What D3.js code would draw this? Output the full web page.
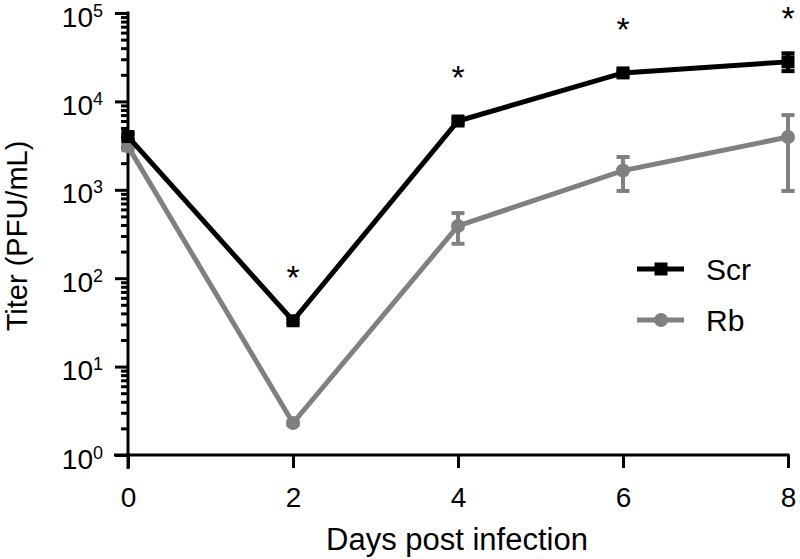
<!DOCTYPE html>
<html>
<head>
<meta charset="utf-8">
<script src="https://cdn.jsdelivr.net/npm/d3@7"></script>
<style>
  html, body { margin: 0; padding: 0; background: #fff; }
  text { font-family: "Liberation Sans", Arial, sans-serif; fill: #000; }
</style>
</head>
<body>
<svg id="chart" width="800" height="559"></svg>
<script>
// ---- data ----
const days = [0, 2, 4, 6, 8];
const scrMean = [4000, 33, 6000, 21000, 28000];
const scrLow  = [3700, 31, 5600, 19500, 22000];
const scrHigh = [4300, 35, 6400, 22500, 35000];
const rbMean  = [3100, 2.3, 390, 1650, 3950];
const rbLow   = [2800, 2.2, 245, 970, 970];
const rbHigh  = [3400, 2.4, 545, 2350, 7000];
const significant = [false, true, true, true, true];
const xTicks = [0, 2, 4, 6, 8];
const yMajor = [1, 10, 100, 1000, 10000, 100000];
const yExponents = ["0", "1", "2", "3", "4", "5"];
const seriesNames = ["Scr", "Rb"];
const seriesColors = ["#000000", "#808080"];
const xTitle = "Days post infection";
const yTitle = "Titer (PFU/mL)";

// ---- scales ----
const svg = d3.select("#chart");
const x = d3.scaleLinear().domain([0, 8]).range([128, 788]);
const y = d3.scaleLog().domain([1, 100000]).range([455, 13]);

// minor ticks
const yMinor = [];
for (let d = 1; d < 100000; d *= 10) for (let k = 2; k <= 9; k++) yMinor.push(d * k);

// ---- axes ----
const axisW = 3;
const gyMinor = svg.append("g").attr("transform", "translate(128,0)")
  .call(d3.axisLeft(y).tickValues(yMinor).tickSize(7).tickFormat(""));
gyMinor.select(".domain").remove();
gyMinor.selectAll("line").attr("stroke", "#000").attr("stroke-width", axisW);

const gy = svg.append("g").attr("transform", "translate(128,0)")
  .call(d3.axisLeft(y).tickValues(yMajor).tickSize(13).tickSizeOuter(0).tickFormat(""));
gy.select(".domain").attr("stroke", "#000").attr("stroke-width", axisW)
  .attr("d", `M0,${y(1) + 14}V${y(100000) - 1.5}`);
gy.selectAll("line").attr("stroke", "#000").attr("stroke-width", axisW);
gy.selectAll(".tick").each(function(d, i) {
  const t = d3.select(this).append("text")
    .attr("x", -25).attr("y", 3).attr("dy", "0.36em")
    .attr("text-anchor", "end").style("font-size", "28px");
  t.append("tspan").text("10");
  t.append("tspan").attr("dy", "-0.55em").style("font-size", "18px").text(yExponents[i]);
});

const gx = svg.append("g").attr("transform", "translate(0,455)")
  .call(d3.axisBottom(x).tickValues(xTicks).tickSize(13).tickSizeOuter(0).tickFormat(d3.format("d")));
gx.select(".domain").attr("stroke", "#000").attr("stroke-width", axisW)
  .attr("d", `M${x(0) - 14},0H${x(8) + 1.5}`);
gx.selectAll("line").attr("stroke", "#000").attr("stroke-width", axisW);
gx.selectAll("text").attr("y", 32).attr("dy", "0.71em").style("font-size", "28px").attr("fill", "#000");

// titles
svg.append("text").attr("x", 457).attr("y", 550).attr("text-anchor", "middle")
  .style("font-size", "31px").text(xTitle);
svg.append("text").attr("transform", "translate(27,236) rotate(-90)")
  .attr("text-anchor", "middle").style("font-size", "29px").text(yTitle);

// ---- series ----
const line = d3.line().x(d => x(d[0])).y(d => y(d[1]));
const series = [
  { name: seriesNames[1], color: seriesColors[1], mean: rbMean, lo: rbLow, hi: rbHigh, shape: "circle" },
  { name: seriesNames[0], color: seriesColors[0], mean: scrMean, lo: scrLow, hi: scrHigh, shape: "square" }
];
series.forEach(s => {
  const g = svg.append("g");
  const pts = days.map((d, i) => [d, s.mean[i]]);
  // error bars
  days.forEach((d, i) => {
    const cx = x(d);
    g.append("line").attr("x1", cx).attr("x2", cx).attr("y1", y(s.lo[i])).attr("y2", y(s.hi[i]))
      .attr("stroke", s.color).attr("stroke-width", 4);
    [s.lo[i], s.hi[i]].forEach(v => {
      g.append("line").attr("x1", cx - 6.5).attr("x2", cx + 6.5).attr("y1", y(v)).attr("y2", y(v))
        .attr("stroke", s.color).attr("stroke-width", 4);
    });
  });
  g.append("path").datum(pts).attr("d", line).attr("fill", "none")
    .attr("stroke", s.color).attr("stroke-width", 5).attr("stroke-linejoin", "miter");
  pts.forEach(p => {
    if (s.shape === "square") {
      g.append("rect").attr("x", x(p[0]) - 6.5).attr("y", y(p[1]) - 6.5)
        .attr("width", 13).attr("height", 13).attr("fill", s.color);
    } else {
      g.append("circle").attr("cx", x(p[0])).attr("cy", y(p[1])).attr("r", 7).attr("fill", s.color);
    }
  });
});

// significance asterisks
days.forEach((d, i) => {
  if (!significant[i]) return;
  svg.append("text").attr("x", x(d)).attr("y", y(scrMean[i]) - 32)
    .attr("text-anchor", "middle").style("font-size", "34px").text("*");
});

// ---- legend ----
const legend = svg.append("g");
[[seriesNames[0], seriesColors[0], "square", 269], [seriesNames[1], seriesColors[1], "circle", 320]].forEach(([name, color, shape, ly]) => {
  legend.append("line").attr("x1", 637).attr("x2", 684).attr("y1", ly).attr("y2", ly)
    .attr("stroke", color).attr("stroke-width", 5);
  if (shape === "square") {
    legend.append("rect").attr("x", 654.5).attr("y", ly - 6.5).attr("width", 13).attr("height", 13).attr("fill", color);
  } else {
    legend.append("circle").attr("cx", 661).attr("cy", ly).attr("r", 7).attr("fill", color);
  }
  legend.append("text").attr("x", 706).attr("y", ly + 11).style("font-size", "30px").text(name);
});
</script>
</body>
</html>
